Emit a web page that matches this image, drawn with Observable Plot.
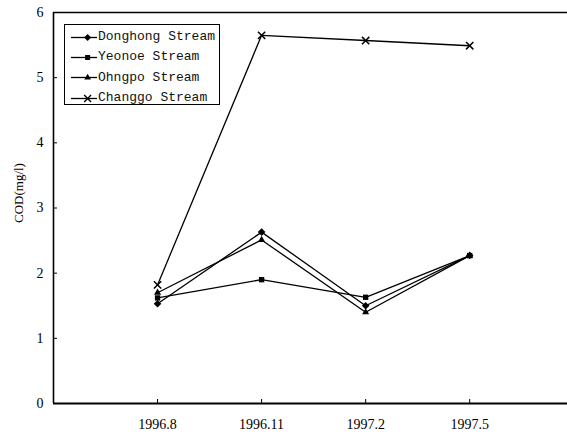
<!DOCTYPE html>
<html>
<head>
<meta charset="utf-8">
<script src="https://cdn.jsdelivr.net/npm/d3@7"></script>
<script src="https://cdn.jsdelivr.net/npm/@observablehq/plot@0.6"></script>
<style>
  html, body { margin: 0; padding: 0; background: #fff; }
  #wrap { position: relative; width: 567px; height: 440px; }
  #legend { position: absolute; left: 64px; top: 24px; width: 156px; height: 81px;
    border: 1.5px solid #000; background: #fff; font-family: "Liberation Mono", "DejaVu Sans Mono", monospace;
    font-size: 13px; color: #111; box-sizing: border-box; padding-top: 1.5px; white-space: nowrap; }
  .row { display: flex; align-items: center; height: 20.3px; }
  .row svg { flex: none; margin-left: 6px; margin-right: 1px; }
  .row span { flex: none; }
</style>
</head>
<body>
<div id="wrap"><div id="legend"></div></div>
<script>
const dates = ["1996.8", "1996.11", "1997.2", "1997.5"];
const seriesNames = ["Donghong Stream", "Yeonoe Stream", "Ohngpo Stream", "Changgo Stream"];
const donghong = [1.53, 2.63, 1.50, 2.27];
const yeonoe   = [1.62, 1.90, 1.63, 2.27];
const ohngpo   = [1.70, 2.51, 1.40, 2.27];
const changgo  = [1.82, 5.65, 5.57, 5.49];
const yTicks = [0, 1, 2, 3, 4, 5, 6];
const symbols = ["diamond2", "square2", "triangle2", "times"];

const allSeries = [donghong, yeonoe, ohngpo, changgo];
const rows = [];
allSeries.forEach((vals, s) => vals.forEach((v, i) => rows.push({series: seriesNames[s], idx: i + 1, value: v, sym: symbols[s]})));

const marks = [
  Plot.ruleY([0], {stroke: "#000", strokeWidth: 2}),
  Plot.ruleY([6], {stroke: "#000", strokeWidth: 1.5}),
  Plot.ruleX([0], {stroke: "#000", strokeWidth: 1.6}),
  Plot.axisY({ticks: yTicks, tickFormat: d => String(d), tickSize: -4, tickPadding: 14, label: null}),
  Plot.axisX({ticks: [1, 2, 3, 4], tickFormat: d => dates[d - 1], tickSize: -4, tickPadding: 20, label: null}),
  Plot.lineY(rows, {x: "idx", y: "value", z: "series", stroke: "#000", strokeWidth: 1.3}),
  Plot.dot(rows.filter(d => d.sym !== "times"), {x: "idx", y: "value", symbol: "sym", fill: "#000", r: 3.4}),
  Plot.dot(rows.filter(d => d.sym === "times"), {x: "idx", y: "value", symbol: "times", stroke: "#000", strokeWidth: 1.5, r: 3.4}),
  Plot.text(["COD(mg/l)"], {frameAnchor: "left", dx: -35, dy: 15, rotate: -90, fontSize: 13, fontFamily: "Liberation Serif"})
];

const chart = Plot.plot({
  width: 567, height: 440,
  marginLeft: 53, marginTop: 12, marginBottom: 37, marginRight: 0,
  x: {type: "linear", domain: [0, 4.94]},
  y: {domain: [0, 6]},
  symbol: {type: "identity"},
  style: {background: "#fff", color: "#000", fontSize: "14px", fontFamily: "Liberation Serif"},
  marks
});
document.getElementById("wrap").prepend(chart);
chart.style.position = "absolute"; chart.style.left = "0"; chart.style.top = "0";

const legend = document.getElementById("legend");
seriesNames.forEach((name, s) => {
  const row = document.createElement("div");
  row.className = "row";
  const sample = Plot.plot({
    width: 26, height: 12, margin: 0,
    x: {domain: [0, 1], axis: null}, y: {domain: [0, 1], axis: null},
    symbol: {type: "identity"},
    style: {background: "transparent"},
    marks: [
      Plot.ruleY([0.5], {stroke: "#000", strokeWidth: 1.3}),
      s === 3
        ? Plot.dot([{x: 0.62, y: 0.5}], {x: "x", y: "y", symbol: () => "times", stroke: "#000", strokeWidth: 1.4, r: 3.2})
        : Plot.dot([{x: 0.62, y: 0.5}], {x: "x", y: "y", symbol: () => symbols[s], fill: "#000", r: 3.2})
    ]
  });
  row.appendChild(sample);
  const t = document.createElement("span");
  t.textContent = name;
  row.appendChild(t);
  legend.appendChild(row);
});
</script>
</body>
</html>
